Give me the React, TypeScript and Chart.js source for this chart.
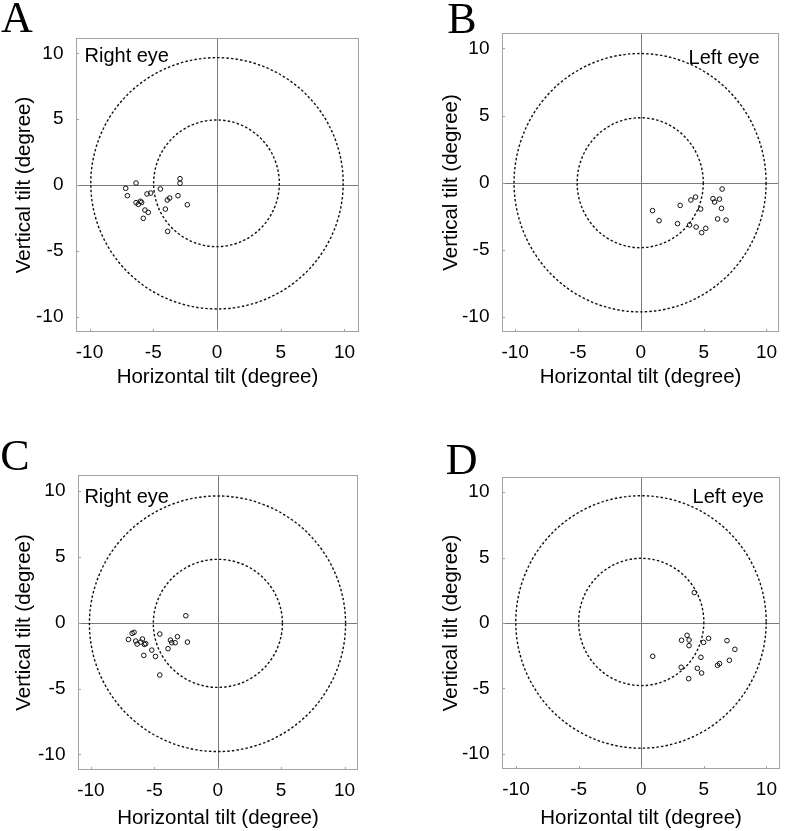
import React, { useEffect, useRef } from "react";
import { Chart, registerables } from "chart.js";

Chart.register(...registerables);

// ---------- data ----------
const TICK_VALUES = [-10, -5, 0, 5, 10];
const X_TITLE = "Horizontal tilt (degree)";
const Y_TITLE = "Vertical tilt (degree)";
const PANEL_LETTERS = ["A", "B", "C", "D"];
const EYE_LABELS = ["Right eye", "Left eye", "Right eye", "Left eye"];

// Panel A – right eye
const A_X = [-7.16, -7.03, -6.35, -6.35, -6.17, -6.01, -5.91, -5.65, -5.78, -5.39, -5.49, -5.2, -4.44, -4.05, -3.9, -3.71, -3.87, -3.06, -2.9, -2.9, -2.33];
const A_Y = [-0.25, -0.81, 0.15, -1.34, -1.47, -1.24, -1.32, -1.9, -2.53, -2.08, -0.68, -0.61, -0.3, -1.83, -1.14, -0.99, -3.52, -0.81, 0.48, 0.13, -1.5];
// Panel B – left eye
const B_X = [0.93, 1.45, 2.92, 3.13, 3.88, 3.98, 4.35, 4.4, 4.76, 4.84, 5.17, 5.74, 5.87, 6.26, 6.47, 6.42, 6.11, 6.78];
const B_Y = [-2.08, -2.83, -3.05, -1.69, -3.15, -1.29, -1.07, -3.3, -1.96, -3.72, -3.4, -1.19, -1.44, -1.22, -0.47, -1.91, -2.7, -2.78];
// Panel C – right eye
const C_X = [-7.04, -6.75, -6.6, -6.47, -6.36, -6.07, -5.94, -5.78, -5.68, -5.83, -5.2, -4.91, -4.57, -4.57, -3.92, -3.73, -3.63, -3.36, -3.18, -2.52, -2.39];
const C_Y = [-1.27, -0.81, -0.73, -1.39, -1.62, -1.47, -1.24, -1.65, -1.59, -2.48, -2.08, -2.56, -0.86, -3.97, -1.97, -1.32, -1.52, -1.52, -1.06, 0.53, -1.47];
// Panel D – left eye
const D_X = [0.92, 3.19, 3.22, 3.66, 3.82, 3.82, 3.79, 4.24, 4.48, 4.77, 4.82, 4.98, 5.38, 6.09, 6.25, 6.85, 7.04, 7.48];
const D_Y = [-2.54, -3.38, -1.32, -0.94, -1.3, -1.73, -4.25, 2.32, -3.46, -2.62, -3.82, -1.48, -1.17, -3.23, -3.1, -1.35, -2.85, -2.01];

// reference rings (centre x, centre y, radius along x, radius along y), in degrees
const A_RINGS = [[-0.04, 0.13, 4.93, 4.81], [0, 0.13, 9.9, 9.54]];
const B_RINGS = [[-0.05, 0, 5.02, 4.84], [-0.06, 0, 10.03, 9.62]];
const C_RINGS = [[0.01, -0.05, 5.09, 4.86], [-0.02, -0.08, 10.1, 9.7]];
const D_RINGS = [[0, 0.08, 5.0, 4.86], [-0.02, 0.08, 10.0, 9.64]];

// ---------- layout ----------
const SANS = '"Liberation Sans", Arial, Helvetica, sans-serif';
const SERIF = '"Liberation Serif", "Times New Roman", serif';
const TICK_SIZE = 19;
const TITLE_SIZE = 20.5;

type Layout = {
  canvas: { left: number; top: number; width: number; height: number };
  padTop: number;
  padRight: number;
  yAxisWidth: number;
  xAxisHeight: number;
  xRange: [number, number];
  yRange: [number, number];
  yTitlePad: number;
  xTitlePad: number;
  eyeAlign: "left" | "right";
  eyeDx: number;
  eyeBaseline: number;
  letterPos: { left: number; top: number };
};

const LAYOUTS: Layout[] = [
  {
    canvas: { left: 0, top: 0, width: 393, height: 400 },
    padTop: 38, padRight: 34, yAxisWidth: 76, xAxisHeight: 68,
    xRange: [-11.06, 11.14], yRange: [-11.16, 11.16],
    yTitlePad: 12.2, xTitlePad: 10.7,
    eyeAlign: "left", eyeDx: 8.5, eyeBaseline: 24.3,
    letterPos: { left: 1, top: -4.2 },
  },
  {
    canvas: { left: 426, top: 0, width: 361, height: 400 },
    padTop: 33, padRight: 1, yAxisWidth: 76, xAxisHeight: 68,
    xRange: [-11.05, 11.0], yRange: [-11.12, 11.15],
    yTitlePad: 13.4, xTitlePad: 10.7,
    eyeAlign: "right", eyeDx: 19.3, eyeBaseline: 31.3,
    letterPos: { left: 447.3, top: -3.5 },
  },
  {
    canvas: { left: 2, top: 430, width: 391, height: 401 },
    padTop: 45, padRight: 35, yAxisWidth: 76, xAxisHeight: 61,
    xRange: [-11.02, 11.06], yRange: [-11.18, 11.21],
    yTitlePad: 10.4, xTitlePad: 0,
    eyeAlign: "left", eyeDx: 6.4, eyeBaseline: 27.7,
    letterPos: { left: 0.3, top: 434.2 },
  },
  {
    canvas: { left: 426, top: 430, width: 361, height: 401 },
    padTop: 47, padRight: 4, yAxisWidth: 76, xAxisHeight: 62,
    xRange: [-11.12, 11.09], yRange: [-11.15, 11.15],
    yTitlePad: 13.4, xTitlePad: 0.2,
    eyeAlign: "right", eyeDx: 16.3, eyeBaseline: 26.3,
    letterPos: { left: 445.8, top: 438.2 },
  },
];

const PANEL_XS = [A_X, B_X, C_X, D_X];
const PANEL_YS = [A_Y, B_Y, C_Y, D_Y];
const PANEL_RINGS = [A_RINGS, B_RINGS, C_RINGS, D_RINGS];

function Panel({ index }: { index: number }) {
  const ref = useRef<HTMLCanvasElement | null>(null);
  const lay = LAYOUTS[index];

  useEffect(() => {
    if (!ref.current) return;
    const xs = PANEL_XS[index];
    const ys = PANEL_YS[index];
    const rings = PANEL_RINGS[index];
    const eyeLabel = EYE_LABELS[index];

    const decor = {
      id: "decor" + index,
      beforeDatasetsDraw(chart: any) {
        const { ctx, chartArea: a, scales } = chart;
        const sx = scales.x;
        const sy = scales.y;
        ctx.save();
        // zero lines
        ctx.strokeStyle = "#7a7a7a";
        ctx.lineWidth = 1;
        const x0 = Math.round(sx.getPixelForValue(0)) + 0.5;
        const y0 = Math.round(sy.getPixelForValue(0)) + 0.5;
        ctx.beginPath();
        ctx.moveTo(x0, a.top);
        ctx.lineTo(x0, a.bottom);
        ctx.moveTo(a.left, y0);
        ctx.lineTo(a.right, y0);
        ctx.stroke();
        // dashed rings
        ctx.setLineDash([2.5, 2.1]);
        ctx.lineWidth = 1.4;
        ctx.strokeStyle = "#111";
        for (const r of rings) {
          const cx = sx.getPixelForValue(r[0]);
          const cy = sy.getPixelForValue(r[1]);
          const rx = Math.abs(sx.getPixelForValue(r[0] + r[2]) - cx);
          const ry = Math.abs(sy.getPixelForValue(r[1] + r[3]) - cy);
          ctx.beginPath();
          ctx.ellipse(cx, cy, rx, ry, 0, 0, Math.PI * 2);
          ctx.stroke();
        }
        ctx.setLineDash([]);
        // frame
        ctx.strokeStyle = "#a3a3a3";
        ctx.lineWidth = 1;
        ctx.strokeRect(a.left + 0.5, a.top + 0.5, a.right - a.left - 1, a.bottom - a.top - 1);
        // small inward tick marks
        ctx.beginPath();
        for (const v of TICK_VALUES) {
          const px = Math.round(sx.getPixelForValue(v)) + 0.5;
          ctx.moveTo(px, a.bottom - 1);
          ctx.lineTo(px, a.bottom - 3);
          const py = Math.round(sy.getPixelForValue(v)) + 0.5;
          ctx.moveTo(a.left + 1, py);
          ctx.lineTo(a.left + 3, py);
        }
        ctx.stroke();
        // eye label
        ctx.fillStyle = "#000";
        ctx.font = "20px " + SANS;
        ctx.textBaseline = "alphabetic";
        if (lay.eyeAlign === "left") {
          ctx.textAlign = "left";
          ctx.fillText(eyeLabel, a.left + lay.eyeDx, a.top + lay.eyeBaseline);
        } else {
          ctx.textAlign = "right";
          ctx.fillText(eyeLabel, a.right - lay.eyeDx, a.top + lay.eyeBaseline);
        }
        ctx.restore();
      },
    };

    const points = xs.map((x, i) => ({ x, y: ys[i] }));

    const chart = new Chart(ref.current, {
      type: "scatter",
      data: {
        datasets: [
          {
            data: points,
            pointStyle: "circle",
            pointRadius: 2.3,
            pointBorderWidth: 1,
            borderColor: "#111",
            backgroundColor: "rgba(255,255,255,0)",
            pointHoverRadius: 2.3,
          },
        ],
      },
      options: {
        responsive: false,
        animation: false,
        events: [],
        layout: { padding: { top: lay.padTop, right: lay.padRight, left: 0, bottom: 0 } },
        plugins: { legend: { display: false }, tooltip: { enabled: false } },
        scales: {
          x: {
            type: "linear",
            position: "bottom",
            min: lay.xRange[0],
            max: lay.xRange[1],
            afterBuildTicks: (s: any) => {
              s.ticks = TICK_VALUES.map((v) => ({ value: v }));
            },
            afterFit: (s: any) => {
              s.height = lay.xAxisHeight;
            },
            grid: { display: false, drawTicks: false },
            border: { display: false },
            ticks: {
              autoSkip: false,
              maxRotation: 0,
              padding: 9.8,
              color: "#000",
              font: { family: SANS, size: TICK_SIZE },
            },
            title: {
              display: true,
              text: X_TITLE,
              color: "#000",
              font: { family: SANS, size: TITLE_SIZE },
              padding: { top: 0, bottom: lay.xTitlePad },
            },
          },
          y: {
            type: "linear",
            position: "left",
            min: lay.yRange[0],
            max: lay.yRange[1],
            afterBuildTicks: (s: any) => {
              s.ticks = TICK_VALUES.map((v) => ({ value: v }));
            },
            afterFit: (s: any) => {
              s.width = lay.yAxisWidth;
            },
            grid: { display: false, drawTicks: false },
            border: { display: false },
            ticks: {
              autoSkip: false,
              padding: 12.5,
              color: "#000",
              font: { family: SANS, size: TICK_SIZE },
            },
            title: {
              display: true,
              text: Y_TITLE,
              color: "#000",
              font: { family: SANS, size: TITLE_SIZE },
              padding: { top: lay.yTitlePad, bottom: 0 },
            },
          },
        },
      },
      plugins: [decor],
    } as any);

    return () => chart.destroy();
  }, [index]);

  return (
    <>
      <canvas
        ref={ref}
        width={lay.canvas.width}
        height={lay.canvas.height}
        style={{
          position: "absolute",
          left: lay.canvas.left,
          top: lay.canvas.top,
          width: lay.canvas.width,
          height: lay.canvas.height,
        }}
      />
      <div
        style={{
          position: "absolute",
          left: lay.letterPos.left,
          top: lay.letterPos.top,
          fontFamily: SERIF,
          fontSize: 44,
          lineHeight: "44px",
          color: "#000",
          whiteSpace: "nowrap",
        }}
      >
        {PANEL_LETTERS[index]}
      </div>
    </>
  );
}

export default function App() {
  useEffect(() => {
    document.body.style.margin = "0";
  }, []);
  return (
    <div
      style={{
        position: "absolute",
        left: 0,
        top: 0,
        width: 787,
        height: 831,
        overflow: "hidden",
        background: "#fff",
      }}
    >
      {[0, 1, 2, 3].map((i) => (
        <Panel key={i} index={i} />
      ))}
    </div>
  );
}
